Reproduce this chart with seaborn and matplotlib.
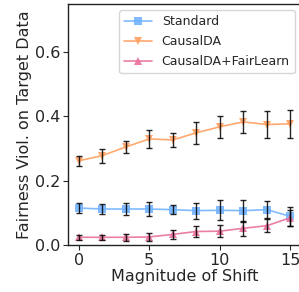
import numpy as np
import pandas as pd
import seaborn as sns
import matplotlib
matplotlib.use("Agg")
import matplotlib.pyplot as plt

shift = [0, 1.667, 3.333, 5, 6.667, 8.333, 10, 11.667, 13.333, 15]
standard = [0.115, 0.112, 0.112, 0.112, 0.110, 0.107, 0.108, 0.107, 0.110, 0.089]
standard_err = [0.016, 0.015, 0.019, 0.022, 0.015, 0.025, 0.031, 0.034, 0.027, 0.030]
causalda = [0.262, 0.278, 0.305, 0.330, 0.327, 0.349, 0.368, 0.383, 0.375, 0.377]
causalda_err = [0.016, 0.022, 0.018, 0.028, 0.023, 0.035, 0.034, 0.034, 0.042, 0.044]
fair = [0.024, 0.024, 0.024, 0.025, 0.033, 0.042, 0.043, 0.052, 0.060, 0.085]
fair_err = [0.008, 0.008, 0.010, 0.013, 0.014, 0.017, 0.019, 0.024, 0.020, 0.025]

labels = ["Standard", "CausalDA", "CausalDA+FairLearn"]
colors = ["#72b4ff", "#ffa060", "#e8709c"]
markers = ["s", "v", "^"]

sns.set_style("ticks")
plt.rcParams['font.family'] = ['DejaVu Sans']

df = pd.DataFrame({
    "shift": shift * 3,
    "value": standard + causalda + fair,
    "err": standard_err + causalda_err + fair_err,
    "method": [labels[0]] * len(shift) + [labels[1]] * len(shift) + [labels[2]] * len(shift),
})

fig = plt.figure(figsize=(2.99, 2.92), dpi=100)
ax = fig.add_axes([68 / 299, 1 - 245 / 292, 233 / 299, 241 / 292])

sns.lineplot(data=df, x="shift", y="value", hue="method", style="method",
             palette=dict(zip(labels, colors)), markers=dict(zip(labels, markers)),
             dashes=False, markersize=6, linewidth=1.2, markeredgewidth=0,
             ax=ax, errorbar=None, alpha=0.9)

for lab in labels:
    sub = df[df["method"] == lab]
    ax.errorbar(sub["shift"], sub["value"], yerr=sub["err"], fmt="none",
                ecolor="black", elinewidth=1.0, capsize=2, capthick=1.0, alpha=0.85, zorder=5)

ax.set_xlim(-0.75, 15.75)
ax.set_ylim(0, 0.75)
ax.set_xticks([0, 5, 10, 15])
ax.set_yticks([0.0, 0.2, 0.4, 0.6])
ax.set_xlabel("Magnitude of Shift", fontsize=11.5, labelpad=1)
ax.set_ylabel("Fairness Viol. on Target Data", fontsize=11.5, labelpad=2)
ax.tick_params(labelsize=11.5, length=3.5, pad=2)
for s in ax.spines.values():
    s.set_visible(True)
    s.set_linewidth(1.0)
    s.set_color("#222222")

ax.legend(title=None, fontsize=9, loc="upper right", borderaxespad=0.5,
          handlelength=2.2, labelspacing=0.55, frameon=True)

fig.savefig("out.png", dpi=100)
